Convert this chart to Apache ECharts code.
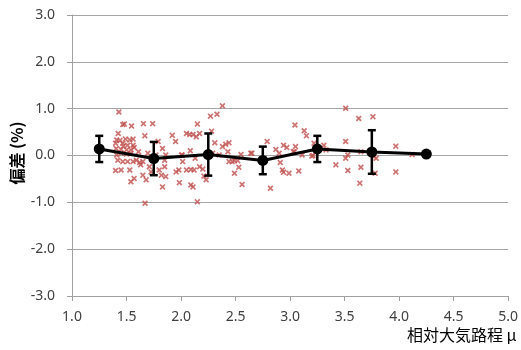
<!DOCTYPE html>
<html><head><meta charset="utf-8">
<script src="https://cdn.jsdelivr.net/npm/echarts@6/dist/echarts.min.js"></script>
<style>html,body{margin:0;padding:0;background:#fff}#c{width:521px;height:350px}</style>
</head><body><div id="c"></div>
<script>
var scatterX = [1.43,1.466,1.48,1.546,1.655,1.74,1.424,1.668,1.41,1.44,1.49,1.53,1.56,1.40,1.466,1.51,1.56,1.405,1.45,1.50,1.54,1.57,1.41,1.45,1.50,1.54,1.42,1.466,1.51,1.56,1.59,1.62,1.65,1.40,1.45,1.53,1.63,1.57,1.54,1.65,1.68,1.67,1.79,1.695,1.77,1.83,1.86,1.85,1.71,1.80,1.85,1.725,1.82,1.86,1.83,1.92,1.95,2.05,2.08,2.11,2.14,2.17,2.01,2.085,2.13,2.015,1.955,1.98,2.05,2.09,2.12,2.15,2.27,2.33,2.38,2.28,1.985,2.09,2.11,2.15,2.21,2.23,2.29,2.35,2.38,2.44,2.43,2.44,2.47,2.49,2.52,2.53,2.49,2.56,2.55,2.64,2.65,2.79,2.82,2.87,2.90,2.91,2.93,2.94,2.97,2.99,3.04,3.045,3.05,3.08,3.11,3.13,3.15,3.21,3.22,3.31,3.33,3.42,3.51,3.51,3.51,3.53,3.53,3.63,3.64,3.65,3.65,3.76,3.77,3.79,3.78,3.97,3.97,4.12,2.17,2.31,2.41,2.94,3.03,3.20,2.005,2.20,1.61,1.47];
var scatterY = [0.93,0.66,0.67,0.63,0.68,0.68,0.47,0.42,0.33,0.32,0.35,0.33,0.35,0.26,0.26,0.22,0.22,0.15,0.13,0.12,0.12,0.17,0.01,0.05,0.03,0.05,-0.10,-0.13,-0.13,-0.13,-0.10,-0.15,-0.13,-0.32,-0.31,-0.31,-0.20,-0.49,-0.56,-0.42,-0.52,-1.02,0.30,0.05,0.01,0.15,0.01,-0.10,-0.24,-0.31,-0.24,-0.35,-0.42,-0.45,-0.67,0.43,0.30,0.47,0.45,0.45,0.40,0.47,0.01,0.10,-0.06,-0.13,-0.35,-0.31,-0.31,-0.30,-0.31,0.67,0.84,0.88,1.06,0.52,-0.58,-0.63,-0.67,-0.99,-0.44,-0.52,0.05,0.01,0.19,0.27,0.08,-0.13,-0.13,-0.11,-0.11,-0.25,-0.38,-0.62,0.02,0.05,0.05,0.30,-0.70,0.13,0.05,-0.15,-0.31,0.22,0.17,-0.38,0.08,0.65,0.19,-0.33,0.01,0.53,0.42,0.00,0.26,0.22,0.12,-0.20,1.01,0.30,-0.06,0.01,-0.32,0.79,-0.59,0.08,-0.25,0.83,-0.02,-0.06,-0.38,0.20,-0.35,0.02,-0.24,0.27,0.24,-0.36,0.08,-0.01,0.01,-0.29,0.08,0.20];
var meanX = [1.25,1.75,2.25,2.75,3.25,3.75,4.25];
var meanY = [0.14,-0.065,0.02,-0.105,0.14,0.075,0.03];
var errY = [0.28,0.355,0.45,0.295,0.28,0.465,0];
var xTicks = ['1.0','1.5','2.0','2.5','3.0','3.5','4.0','4.5','5.0'];
var yTicks = ['-3.0','-2.0','-1.0','0.0','1.0','2.0','3.0'];

var chart = echarts.init(document.getElementById('c'), null, {renderer:'canvas'});
var scatterData = scatterX.map(function(x,i){return [x, scatterY[i]];});
var lineData = meanX.map(function(x,i){return [x, meanY[i]];});
var errData = meanX.map(function(x,i){return [x, meanY[i]-errY[i], meanY[i]+errY[i]];}).filter(function(d){return d[2]-d[1]>0;});
var font = '"Noto Sans", "Liberation Sans", sans-serif';
var cross = 'path://M0,2 L2,0 L5,3 L8,0 L10,2 L7,5 L10,8 L8,10 L5,7 L2,10 L0,8 L3,5 Z';

chart.setOption({
  animation:false,
  grid:{left:72,right:11,top:15,bottom:54},
  xAxis:{type:'value',min:1,max:5,interval:0.5,
    axisLine:{show:true,onZero:false,lineStyle:{color:'#a0a0a0',width:1}},
    axisTick:{show:true,length:5,lineStyle:{color:'#a0a0a0'}},
    splitLine:{show:false},
    axisLabel:{margin:14,color:'#404040',fontSize:14,fontFamily:font,
      formatter:function(v){var i=Math.round((v-1)/0.5);return xTicks[i];}}},
  yAxis:{type:'value',min:-3,max:3,interval:1,
    axisLine:{show:true,lineStyle:{color:'#a0a0a0',width:1}},
    axisTick:{show:true,length:5,lineStyle:{color:'#a0a0a0'}},
    splitLine:{show:true,lineStyle:{color:'#a6a6a6',width:1}},
    axisLabel:{margin:17,color:'#404040',fontSize:14,fontFamily:font,
      formatter:function(v){return yTicks[Math.round(v+3)];}}},
  graphic:[
    {type:'text',left:407,top:327,style:{text:'相対大気路程 μ',fill:'#000',font:'16px "Noto Sans CJK JP", sans-serif'}},
    {type:'text',x:17,y:153,rotation:Math.PI/2,style:{text:'偏差 (%)',fill:'#000',font:'bold 16px "Noto Sans CJK JP", sans-serif',align:'center',verticalAlign:'middle'}}
  ],
  series:[
    {type:'scatter',data:scatterData,symbol:cross,symbolSize:6,itemStyle:{color:'#c0504d'},z:2},
    {type:'line',data:lineData,symbol:'circle',symbolSize:11,showSymbol:true,
      lineStyle:{color:'#000',width:3},itemStyle:{color:'#000'},z:3},
    {type:'custom',data:errData,z:4,
      renderItem:function(params,api){
        var x=api.value(0), lo=api.coord([x,api.value(1)]), hi=api.coord([x,api.value(2)]);
        var w=4;
        var st={stroke:'#000',lineWidth:2.5};
        return {type:'group',children:[
          {type:'line',shape:{x1:lo[0],y1:lo[1],x2:hi[0],y2:hi[1]},style:st},
          {type:'line',shape:{x1:lo[0]-w,y1:lo[1],x2:lo[0]+w,y2:lo[1]},style:st},
          {type:'line',shape:{x1:hi[0]-w,y1:hi[1],x2:hi[0]+w,y2:hi[1]},style:st}
        ]};
      }}
  ]
});
</script></body></html>
